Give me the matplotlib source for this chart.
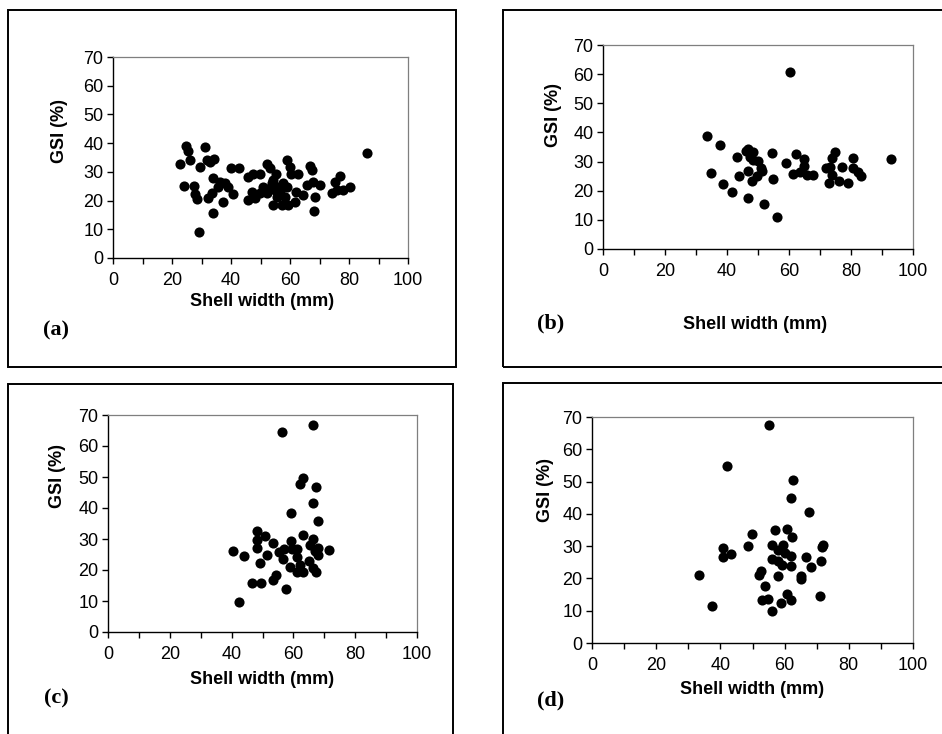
import matplotlib
matplotlib.use("Agg")
import matplotlib.pyplot as plt
from matplotlib.patches import Rectangle
from matplotlib.ticker import MultipleLocator

W, H = 942, 734

# panel (a)
a_x = [24.8, 25.3, 31.2, 22.8, 26.2, 29.5, 31.8, 34.3, 32.9, 23.9, 27.5, 27.8, 28.4, 29.2, 34.0,
       34.0, 32.3, 33.5, 35.7, 36.3, 38.0, 37.4, 39.1, 40.8, 39.9, 42.8, 45.9, 47.6, 49.8, 52.1,
       53.2, 45.9, 47.0, 48.1, 51.0, 52.1, 54.3, 54.3, 55.4, 56.0, 56.6, 57.2, 58.3, 58.9, 60.0,
       60.5, 62.8, 59.4, 61.7, 62.2, 64.5, 66.7, 67.3, 65.6, 67.9, 70.1, 68.4, 68.2, 74.1, 75.2,
       76.9, 75.8, 78.0, 80.5, 86.1, 52.6, 53.8, 54.9, 57.7, 58.9, 55.5, 49.8]
a_y = [38.9, 37.3, 38.7, 32.6, 34.1, 31.8, 34.1, 34.6, 33.5, 25.2, 25.2, 22.3, 20.4, 9.2, 15.6,
       27.7, 20.8, 22.5, 24.8, 26.6, 26.0, 19.6, 24.8, 22.3, 31.2, 31.5, 28.3, 29.4, 29.4, 32.9,
       31.2, 20.2, 23.1, 21.0, 24.8, 22.5, 18.5, 27.1, 29.4, 24.8, 23.1, 18.5, 21.4, 34.1, 31.8,
       29.4, 29.4, 18.5, 19.6, 23.1, 21.9, 32.0, 30.8, 25.4, 26.6, 25.4, 21.4, 16.5, 22.5, 26.6,
       28.5, 23.7, 23.7, 24.6, 36.6, 24.2, 26.0, 23.7, 26.0, 24.8, 21.4, 22.5]

# panel (b)
b_x = [33.6, 34.7, 37.9, 38.8, 41.7, 43.1, 44.0, 46.1, 46.9, 48.5, 47.4, 48.5, 50.1, 46.9, 48.2,
       49.6, 50.9, 51.2, 46.9, 52.0, 54.4, 54.7, 56.2, 58.9, 60.3, 61.2, 62.3, 63.4, 64.9, 64.7,
       65.9, 67.9, 72.0, 73.1, 73.8, 74.7, 73.9, 72.8, 76.1, 77.2, 79.0, 80.5, 80.8, 82.2, 83.3, 92.9]
b_y = [38.9, 26.2, 35.7, 22.2, 19.7, 31.5, 24.9, 33.6, 34.3, 33.2, 31.5, 30.5, 30.3, 26.7, 23.2,
       24.9, 27.8, 26.6, 17.6, 15.6, 32.9, 24.0, 11.1, 29.5, 60.6, 25.6, 32.6, 26.3, 30.9, 28.6,
       25.5, 25.5, 27.7, 28.3, 31.2, 33.2, 25.5, 22.5, 23.5, 28.0, 22.5, 27.7, 31.1, 26.3, 24.9, 30.9]

# panel (c)
c_x = [56.2, 66.3, 63.0, 62.2, 67.3, 66.3, 59.2, 68.1, 48.1, 50.8, 48.1, 53.3, 63.0, 66.3, 59.1,
       48.1, 40.3, 44.0, 51.6, 55.4, 56.8, 61.1, 59.5, 56.5, 61.1, 65.4, 68.1, 68.1, 71.6, 67.0,
       49.2, 58.9, 62.2, 65.2, 61.1, 63.2, 66.3, 67.3, 54.4, 53.3, 46.5, 49.4, 57.6, 42.4]
c_y = [64.6, 66.7, 49.7, 47.6, 46.8, 41.7, 38.5, 35.7, 32.5, 31.0, 29.6, 28.8, 31.2, 30.1, 29.4,
       27.1, 26.0, 24.5, 24.9, 25.7, 26.9, 26.9, 26.7, 23.7, 24.2, 28.2, 27.1, 25.0, 26.3, 26.0,
       22.4, 21.0, 21.7, 22.8, 19.2, 19.2, 20.7, 19.2, 18.5, 16.9, 15.9, 15.9, 14.0, 9.7]

# panel (d)
d_x = [55.1, 42.2, 62.7, 61.9, 67.7, 49.7, 57.0, 60.8, 62.2, 40.9, 43.2, 40.9, 48.7, 56.0, 59.6,
       58.0, 60.1, 61.9, 56.0, 57.8, 59.1, 61.9, 66.6, 68.1, 71.2, 71.5, 72.0, 33.4, 52.8, 52.0,
       57.8, 65.0, 65.1, 53.9, 37.3, 52.9, 54.7, 56.2, 58.8, 60.8, 61.9, 71.0]
d_y = [67.5, 54.7, 50.6, 44.9, 40.5, 33.9, 34.9, 35.2, 32.7, 29.4, 27.7, 26.5, 29.9, 30.4, 30.4,
       28.8, 28.0, 26.8, 26.0, 25.5, 24.3, 23.7, 26.5, 23.4, 25.5, 29.6, 30.4, 21.2, 22.4, 21.2,
       20.7, 20.7, 19.7, 17.6, 11.5, 13.2, 13.5, 9.8, 12.4, 15.3, 13.2, 14.5]

letters = ["(a)", "(b)", "(c)", "(d)"]
x_title = "Shell width (mm)"
y_title = "GSI (%)"
x_ticks = [0, 20, 40, 60, 80, 100]
y_ticks = [0, 10, 20, 30, 40, 50, 60, 70]


def fig_box(x0, y0, x1, y1):
    # pixel box (top-left origin) -> figure fraction [l, b, w, h]
    return [x0 / W, 1 - y1 / H, (x1 - x0) / W, (y1 - y0) / H]


# layout per panel, in pixels: axes box, outer frame, label anchors
layout = [
    dict(ax=(113, 57, 408, 258), frame=(8, 10, 456, 367), ylab=(60, 131), xlab=(262, 301), let=(56, 330)),
    dict(ax=(603, 45, 913, 249), frame=(503, 10, 960, 367), ylab=(553, 115), xlab=(755, 325), let=(551, 323)),
    dict(ax=(108, 415, 417, 632), frame=(8, 384, 453, 760), ylab=(58, 476), xlab=(262, 679), let=(56, 698)),
    dict(ax=(592, 417, 913, 643), frame=(503, 383, 960, 760), ylab=(545, 490), xlab=(752, 689), let=(551, 700)),
]
data = [(a_x, a_y), (b_x, b_y), (c_x, c_y), (d_x, d_y)]

plt.rcParams['font.family'] = ['Liberation Sans', 'DejaVu Sans']

fig = plt.figure(figsize=(W / 100, H / 100), dpi=100)

for (xs, ys), lay, letter in zip(data, layout, letters):
    ax = fig.add_axes(fig_box(*lay["ax"]))
    ax.plot(xs, ys, "o", color="black", markersize=7.3, markeredgewidth=0, clip_on=False)
    ax.set_xlim(0, 100)
    ax.set_ylim(0, 70)
    ax.set_xticks(x_ticks)
    ax.xaxis.set_minor_locator(MultipleLocator(10))
    ax.set_yticks(y_ticks)
    ax.tick_params(axis="both", which="both", direction="out", length=4, width=1, colors="black",
                   labelsize=13, pad=6)
    ax.tick_params(axis="y", pad=3)
    for side in ["left", "bottom"]:
        ax.spines[side].set_color("black")
        ax.spines[side].set_linewidth(1.0)
    for side in ["top", "right"]:
        ax.spines[side].set_color("#7f7f7f")
        ax.spines[side].set_linewidth(0.9)

    fx0, fy0, fx1, fy1 = lay["frame"]
    fig.patches.append(Rectangle((fx0 / W, 1 - fy1 / H), (fx1 - fx0) / W, (fy1 - fy0) / H,
                                 transform=fig.transFigure, fill=False, edgecolor="black",
                                 linewidth=1.4))

    fig.text(lay["xlab"][0] / W, 1 - lay["xlab"][1] / H, x_title, ha="center", va="center",
             fontsize=13, fontweight="bold")
    fig.text(lay["ylab"][0] / W, 1 - lay["ylab"][1] / H, y_title, ha="center", va="center",
             rotation=90, fontsize=13, fontweight="bold")
    fig.text(lay["let"][0] / W, 1 - lay["let"][1] / H, letter, ha="center", va="center",
             fontsize=16, fontweight="bold", family="Liberation Serif")

fig.savefig("out.png", dpi=100)
